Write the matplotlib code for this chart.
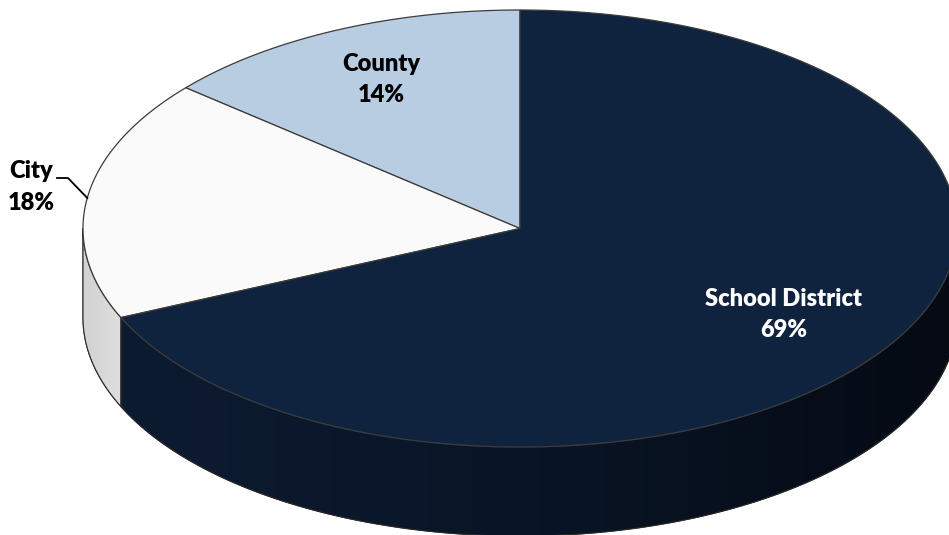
import numpy as np
import matplotlib.pyplot as plt
from matplotlib.patches import Polygon
from matplotlib.colors import LinearSegmentedColormap

# slices, counter-clockwise from 12 o'clock
labels = ['County', 'City', 'School District']
shares = [14, 18, 69]
top_colors = ['#b8cce2', '#fafafa', '#0f233f']
side_colors = ['#98acc4', '#d9d9d9', '#0b182b']
label_colors = ['black', 'black', 'white']

# ellipse geometry in pixels
cx, cy = 520, 228.5
rx, ry = 437, 218.5
depth = 89

plt.rcParams['font.family'] = ['Lato', 'DejaVu Sans']


def pt(t, r=1.0, dz=0.0):
    t = np.radians(t)
    return cx + rx * r * np.cos(t), cy - ry * r * np.sin(t) + dz


fig = plt.figure(figsize=(9.49, 5.35), dpi=100)
ax = fig.add_axes([0, 0, 1, 1])

total = sum(shares)
bounds = 90 + np.concatenate([[0], np.cumsum(shares)]) / total * 360

# side walls (front half only, 180..360)
for i in range(len(shares)):
    s = max(bounds[i], 180)
    e = min(bounds[i + 1], 360)
    if e <= s:
        continue
    ts = np.linspace(s, e, 200)
    top = [pt(t) for t in ts]
    bot = [pt(t, dz=depth) for t in ts[::-1]]
    poly = Polygon(top + bot, closed=True, facecolor=side_colors[i],
                   edgecolor='#2a2a2a', lw=0.8, zorder=1)
    ax.add_patch(poly)
    if labels[i] == 'School District':
        cmap = LinearSegmentedColormap.from_list('side', ['#0d1b31', '#091526', '#050a13'])
    else:
        cmap = LinearSegmentedColormap.from_list('side', ['#d2d2d2', '#dedede'])
    x0, x1 = pt(s)[0], pt(e)[0]
    grad = np.linspace(0, 1, 256).reshape(1, -1)
    im = ax.imshow(grad, cmap=cmap, aspect='auto', extent=[x0, x1, 535, 0],
                   zorder=1.5, interpolation='bilinear')
    im.set_clip_path(poly)
    ax.add_patch(Polygon(top + bot, closed=True, facecolor='none',
                         edgecolor='#2a2a2a', lw=0.8, zorder=2))

# top faces
for i in range(len(shares)):
    ts = np.linspace(bounds[i], bounds[i + 1], 300)
    verts = [(cx, cy)] + [pt(t) for t in ts]
    ax.add_patch(Polygon(verts, closed=True, facecolor=top_colors[i],
                         edgecolor='#3c3c3c', lw=0.9, zorder=3))

# labels
for i, name in enumerate(labels):
    mid = (bounds[i] + bounds[i + 1]) / 2
    txt = f'{name}\n{shares[i]}%'
    if name == 'City':
        ex, ey = pt(mid)
        ax.plot([57, 68, ex], [178, 178, ey], color='black', lw=1.3, zorder=4)
        ax.text(31, 187, txt, ha='center', va='center', fontsize=17,
                fontweight='heavy', color=label_colors[i], linespacing=1.5, zorder=5)
    else:
        r = 0.75 if name == 'County' else 0.72
        x, y = pt(mid, r)
        ax.text(x, y, txt, ha='center', va='center', fontsize=17,
                fontweight='heavy', color=label_colors[i], linespacing=1.5, zorder=5)

ax.set_xlim(0, 949)
ax.set_ylim(535, 0)
ax.axis('off')
fig.savefig('out.png', dpi=100)
